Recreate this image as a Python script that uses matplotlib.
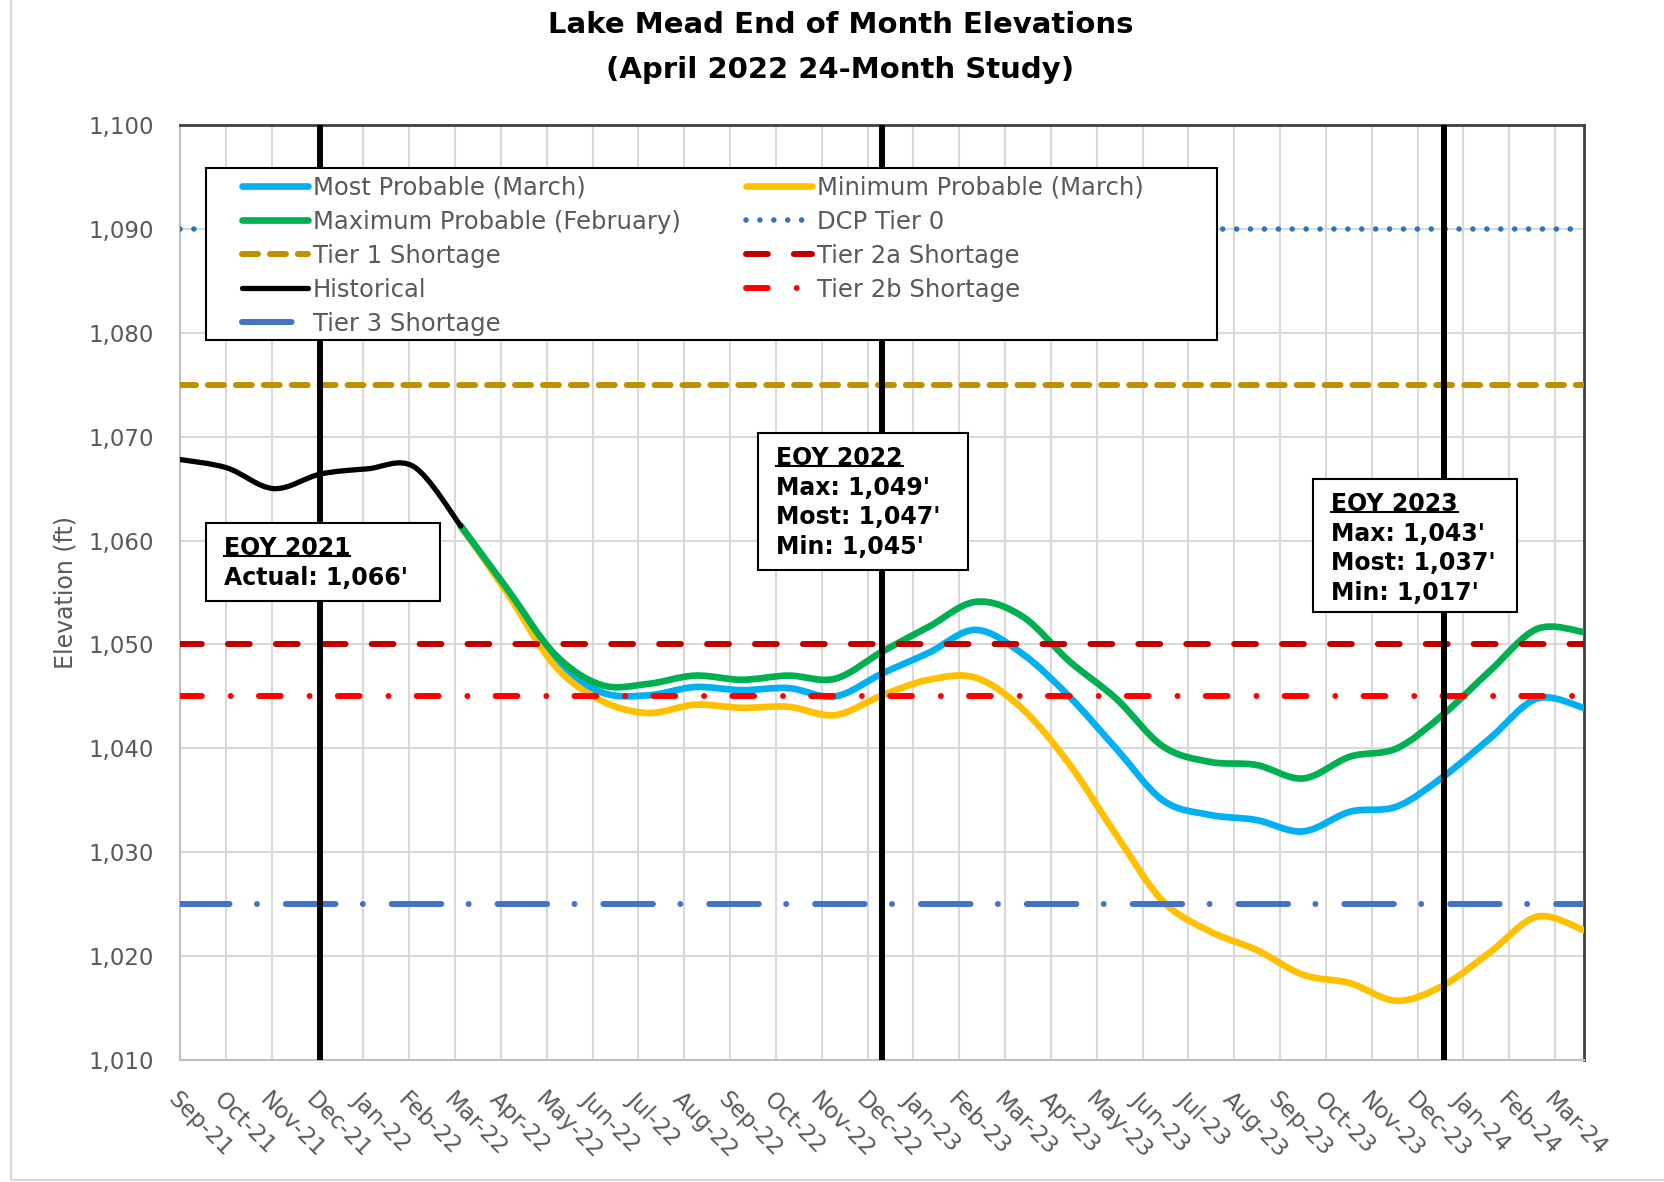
import matplotlib.pyplot as plt
from matplotlib.path import Path
from matplotlib.patches import PathPatch, Rectangle
from matplotlib.lines import Line2D
import numpy as np

# ---- data ----
months = ['Sep-21', 'Oct-21', 'Nov-21', 'Dec-21', 'Jan-22', 'Feb-22', 'Mar-22',
          'Apr-22', 'May-22', 'Jun-22', 'Jul-22', 'Aug-22', 'Sep-22', 'Oct-22',
          'Nov-22', 'Dec-22', 'Jan-23', 'Feb-23', 'Mar-23', 'Apr-23', 'May-23',
          'Jun-23', 'Jul-23', 'Aug-23', 'Sep-23', 'Oct-23', 'Nov-23', 'Dec-23',
          'Jan-24', 'Feb-24', 'Mar-24']

# Sep-21 .. Mar-22
historical = [1067.8, 1067.0, 1065.0, 1066.4, 1066.9, 1067.1, 1061.4]

# Mar-22 .. Mar-24
most_prob = [1061.4, 1055.1, 1048.5, 1045.4, 1045.1, 1045.9, 1045.6, 1045.8,
             1045.0, 1047.2, 1049.2, 1051.4, 1049.1, 1045.0, 1040.0, 1035.0,
             1033.6, 1033.1, 1032.0, 1033.9, 1034.4, 1037.3, 1041.0, 1044.8,
             1043.9]
min_prob = [1061.4, 1054.9, 1048.0, 1044.6, 1043.4, 1044.2, 1043.9, 1044.0,
            1043.2, 1045.1, 1046.6, 1046.8, 1043.8, 1038.5, 1031.7, 1025.3,
            1022.4, 1020.6, 1018.2, 1017.4, 1015.7, 1017.2, 1020.4, 1023.8,
            1022.5]
max_prob = [1061.4, 1055.3, 1049.1, 1046.1, 1046.2, 1047.0, 1046.6, 1047.0,
            1046.7, 1049.3, 1051.7, 1054.1, 1052.7, 1048.4, 1044.8, 1040.2,
            1038.7, 1038.4, 1037.1, 1039.2, 1040.0, 1043.3, 1047.5, 1051.5,
            1051.2]

dcp_tier0 = 1090
tier1 = 1075
tier2a = 1050
tier2b = 1045
tier3 = 1025

eoy_months = ['Dec-21', 'Dec-22', 'Dec-23']
eoy_heads = ['EOY 2021', 'EOY 2022', 'EOY 2023']
eoy_bodies = ["Actual: 1,066'",
              "Max: 1,049'\nMost: 1,047'\nMin: 1,045'",
              "Max: 1,043'\nMost: 1,037'\nMin: 1,017'"]
# box placement in axes fraction: (x0, y0, x1, y1)
eoy_boxes = [(0.0185, 0.4909, 0.1852, 0.5743),
             (0.4117, 0.5241, 0.5613, 0.6706),
             (0.8070, 0.4791, 0.9523, 0.6214)]

yticks = list(range(1010, 1101, 10))

plt.rcParams['lines.scale_dashes'] = False
plt.rcParams['font.family'] = ['DejaVu Sans']
GREY = '#595959'


def smooth_path(xs, ys):
    # smoothed line like a spreadsheet chart: cubic bezier through the points
    pts = np.column_stack([xs, ys]).astype(float)
    n = len(pts)
    verts = [pts[0]]
    codes = [Path.MOVETO]
    for i in range(n - 1):
        p0 = pts[i - 1] if i > 0 else pts[i]
        p1 = pts[i]
        p2 = pts[i + 1]
        p3 = pts[i + 2] if i + 2 < n else pts[i + 1]
        verts += [p1 + (p2 - p0) / 6, p2 - (p3 - p1) / 6, p2]
        codes += [Path.CURVE4] * 3
    return Path(verts, codes)


fig = plt.figure(figsize=(16.64, 11.82), dpi=100)
rect = [180 / 1664, 1 - 1060 / 1182, 1404 / 1664, 935 / 1182]

# background axes: gridlines and tick labels (date axis, a bit wider than the data)
ax_bg = fig.add_axes(rect)
ax_bg.set_xlim(0, 30.63)
ax_bg.set_ylim(1010, 1100)
ax_bg.set_xticks(range(len(months)))
ax_bg.set_xticklabels(months, rotation=-45, ha='left', va='top',
                      rotation_mode='anchor', fontsize=16.5, color=GREY)
ax_bg.set_yticks(yticks)
ax_bg.set_yticklabels([f'{v:,}' for v in yticks], fontsize=16.5, color=GREY)
ax_bg.tick_params(axis='x', length=0, pad=20)
ax_bg.tick_params(axis='y', length=0, pad=19)
ax_bg.grid(True, color='#D9D9D9', lw=1.5)
ax_bg.set_axisbelow(True)
for s in ['left', 'bottom']:
    ax_bg.spines[s].set_color('#BFBFBF')
    ax_bg.spines[s].set_linewidth(1.5)
for s in ['top', 'right']:
    ax_bg.spines[s].set_color('#404040')
    ax_bg.spines[s].set_linewidth(2)
ax_bg.set_ylabel('Elevation (ft)', fontsize=17, color=GREY)
ax_bg.yaxis.set_label_coords(-0.073, 0.5)

# data axes
ax = fig.add_axes(rect)
ax.patch.set_visible(False)
ax.set_xlim(0, len(months) - 1)
ax.set_ylim(1010, 1100)
ax.axis('off')

x_all = np.arange(len(months))
x_hist = x_all[:len(historical)]
x_proj = x_all[len(historical) - 1:]

series = [
    (x_proj, most_prob, '#00B0F0', 4.8),
    (x_proj, min_prob, '#FFC000', 4.8),
    (x_proj, max_prob, '#00B050', 4.8),
    (x_hist, historical, 'black', 3.8),
]
for xs, ys, c, lw in series:
    ax.add_patch(PathPatch(smooth_path(xs, ys), fill=False, edgecolor=c, lw=lw,
                           capstyle='round', joinstyle='round', zorder=2))

tier_styles = {
    'DCP Tier 0': (dcp_tier0, '#2E75B6', 4.0, (0.01, 10)),
    'Tier 1 Shortage': (tier1, '#BF9000', 4.3, (11.5, 8.6)),
    'Tier 2a Shortage': (tier2a, '#C00000', 4.3, (15.7, 18.8)),
    'Tier 2b Shortage': (tier2b, '#FF0000', 4.3, (15.7, 20.8, 0.01, 20.3)),
    'Tier 3 Shortage': (tier3, '#4472C4', 4.3, (35.7, 19.7, 0.01, 20.8)),
}
for name, (val, c, lw, d) in tier_styles.items():
    ax.axhline(val, color=c, lw=lw, dashes=d, dash_capstyle='round', zorder=3)

for m in eoy_months:
    ax.axvline(months.index(m), color='black', lw=4.3, zorder=4)


def tier_handle(name):
    val, c, lw, d = tier_styles[name]
    return Line2D([], [], color=c, lw=lw, dashes=d, dash_capstyle='round')


handles = [
    Line2D([], [], color='#00B0F0', lw=4.8, solid_capstyle='round'),
    Line2D([], [], color='#00B050', lw=4.8, solid_capstyle='round'),
    tier_handle('Tier 1 Shortage'),
    Line2D([], [], color='black', lw=3.8, solid_capstyle='round'),
    tier_handle('Tier 3 Shortage'),
    Line2D([], [], color='#FFC000', lw=4.8, solid_capstyle='round'),
    tier_handle('DCP Tier 0'),
    tier_handle('Tier 2a Shortage'),
    tier_handle('Tier 2b Shortage'),
]
labels = ['Most Probable (March)', 'Maximum Probable (February)', 'Tier 1 Shortage',
          'Historical', 'Tier 3 Shortage', 'Minimum Probable (March)', 'DCP Tier 0',
          'Tier 2a Shortage', 'Tier 2b Shortage']

# legend frame drawn separately so its size matches the original
ax.add_patch(Rectangle((0.0185, 0.770), 0.7201, 0.184, transform=ax.transAxes,
                       fc='white', ec='black', lw=1.5, zorder=9))
leg = ax.legend(handles, labels, ncol=2, loc='upper left',
                bbox_to_anchor=(0.0442, 0.9455), borderaxespad=0, borderpad=0,
                frameon=False, fontsize=17.5, labelcolor=GREY,
                handlelength=2.7, handletextpad=0.2, columnspacing=2.7,
                labelspacing=0.41)
leg.set_zorder(10)

# EOY annotation boxes
heads = []
for (x0, y0, x1, y1), head, body in zip(eoy_boxes, eoy_heads, eoy_bodies):
    ax.add_patch(Rectangle((x0, y0), x1 - x0, y1 - y0, transform=ax.transAxes,
                           fc='white', ec='black', lw=1.5, zorder=6))
    tx = x0 + 18 / 1404
    ty = y1 - 13 / 935
    heads.append(ax.text(tx, ty, head, transform=ax.transAxes, ha='left',
                         va='top', fontsize=17, fontweight='bold', zorder=7))
    ax.text(tx, ty - 29.7 / 935, body, transform=ax.transAxes, ha='left',
            va='top', fontsize=17, fontweight='bold', linespacing=1.29, zorder=7)

fig.text(0.505, 1 - 25 / 1182, 'Lake Mead End of Month Elevations', ha='center',
         va='center', fontsize=21, fontweight='bold')
fig.text(0.505, 1 - 70 / 1182, '(April 2022 24-Month Study)', ha='center',
         va='center', fontsize=21, fontweight='bold')

# chart-area border (partly cropped in the original)
fig.add_artist(Rectangle((11 / 1664, 2 / 1182), 2, 2, transform=fig.transFigure,
                         fill=False, ec='#D9D9D9', lw=1.5))

# underline the box headings
fig.canvas.draw()
r = fig.canvas.get_renderer()
inv = fig.transFigure.inverted()
for h in heads:
    bb = h.get_window_extent(r)
    (ux0, uy), (ux1, _) = inv.transform([(bb.x0, bb.y0 + 4), (bb.x1, bb.y0 + 4)])
    fig.add_artist(Line2D([ux0, ux1], [uy, uy], transform=fig.transFigure,
                          color='black', lw=1.5, zorder=7))

plt.savefig('out.png', dpi=100)
plt.close()
